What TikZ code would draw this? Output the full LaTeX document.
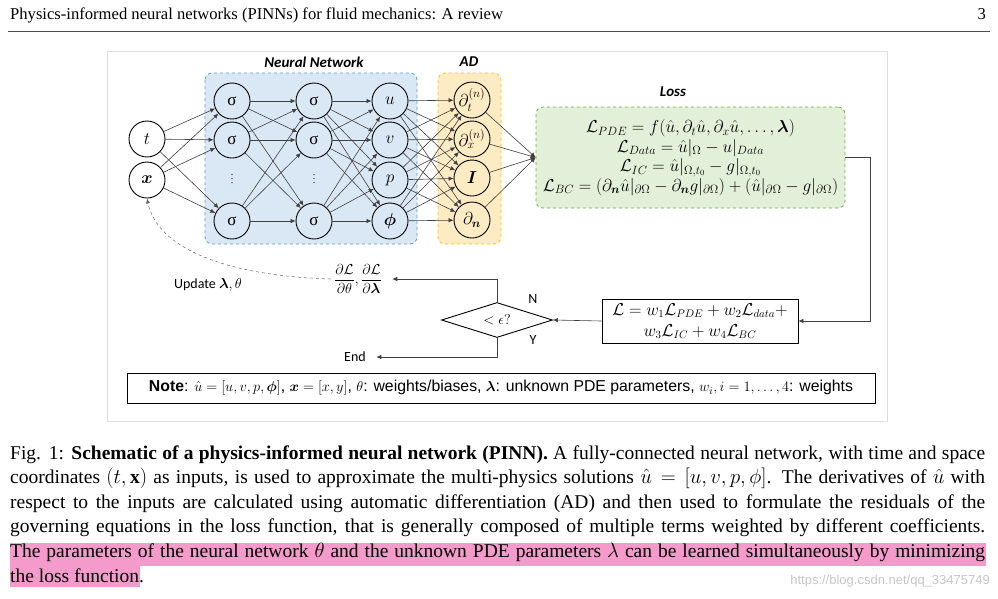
\documentclass[tikz,border=0pt]{standalone}
\usepackage{amsmath,bm}
\usepackage{fontspec}
\setmainfont{Liberation Serif}
\newfontfamily\calibri{Carlito}
\newfontfamily\arial{Liberation Sans}
\usetikzlibrary{arrows.meta,shapes.geometric}
\definecolor{nnfill}{HTML}{DAE8F5}
\definecolor{nnline}{HTML}{5B9BD5}
\definecolor{adfill}{HTML}{FDEBC4}
\definecolor{adline}{HTML}{FFC000}
\definecolor{lossfill}{HTML}{E2F0D9}
\definecolor{lossline}{HTML}{70AD47}
\definecolor{hilite}{HTML}{F59BCB}

\begin{document}
\begin{tikzpicture}[x=1pt,y=-1pt,
 neu/.style={draw,circle,minimum size=36pt,inner sep=0pt,line width=0.9pt,font=\fontsize{17}{19}\selectfont},
 grp/.style={rounded corners=7pt,dashed,line width=0.8pt},
 ttl/.style={font=\calibri\bfseries\itshape\fontsize{15}{18}\selectfont},
 con/.style={-{Latex[length=5pt,width=4.5pt]},black!75,line width=0.6pt},
 lbl/.style={font=\calibri\fontsize{14}{16}\selectfont},
 capline/.style={anchor=base west,inner sep=0pt,font=\fontsize{19.5}{24}\selectfont}]
\useasboundingbox (0,0) rectangle (998,598);
\node[anchor=base west,inner sep=0pt,font=\fontsize{16.6}{18}\selectfont] (head) at (10,19) {Physics-informed neural networks (PINNs) for fluid mechanics: A review};
\node[anchor=base east,inner sep=0pt,font=\fontsize{16.6}{18}\selectfont] (pg) at (986,19) {3};
\draw[black!70,line width=0.6pt] (8,31) -- (990,31);
\draw[gray!25,line width=0.8pt] (107,51) rectangle (887,421);
\draw[grp,draw=nnline,fill=nnfill] (205,73) rectangle (417,244);
\draw[grp,draw=adline,fill=adfill] (438,73) rectangle (501,244);
\node[ttl] (nntitle) at (314,62) {Neural Network};
\node[ttl] (adtitle) at (469,62) {AD};
\node[ttl] (losstitle) at (673,92) {Loss};
\node[neu] (t) at (147,139) {$t$};
\node[neu] (x) at (147,180) {$\bm{x}$};
\foreach \c/\xx in {1/232,2/314}{
 \node[neu] (s\c1) at (\xx,101) {σ};
 \node[neu] (s\c2) at (\xx,140) {σ};
 \node (s\c3) at (\xx,176) {$\vdots$};
 \node[neu] (s\c4) at (\xx,221) {σ};
}
\node[neu] (o1) at (390,101) {$u$};
\node[neu] (o2) at (390,140) {$v$};
\node[neu] (o3) at (390,180) {$p$};
\node[neu] (o4) at (390,221) {$\bm{\phi}$};
\node[neu] (d1) at (472,100) {$\partial_t^{(n)}$};
\node[neu] (d2) at (472,139) {$\partial_x^{(n)}$};
\node[neu] (d3) at (472,178) {$\bm{I}$};
\node[neu] (d4) at (472,220) {$\partial_{\bm{n}}$};
\node[grp,draw=lossline,fill=lossfill,minimum width=309pt,minimum height=101pt,align=center,font=\fontsize{16.5}{19.5}\selectfont] (loss) at (690.5,157.5)
 {$\mathcal{L}_{PDE}=f(\hat{u},\partial_t\hat{u},\partial_x\hat{u},\dots,\bm{\lambda})$\\
  $\mathcal{L}_{Data}=\hat{u}|_{\Omega}-u|_{Data}$\\
  $\mathcal{L}_{IC}=\hat{u}|_{\Omega,t_0}-g|_{\Omega,t_0}$\\
  $\mathcal{L}_{BC}=(\partial_{\bm{n}}\hat{u}|_{\partial\Omega}-\partial_{\bm{n}}g|_{\partial\Omega})+(\hat{u}|_{\partial\Omega}-g|_{\partial\Omega})$};
\foreach \i in {t,x} \foreach \j in {1,2,4} \draw[con] (\i) -- (s1\j);
\foreach \i in {1,2,4} \foreach \j in {1,2,4} \draw[con] (s1\i) -- (s2\j);
\foreach \i in {1,2,4} \foreach \j in {1,...,4} \draw[con] (s2\i) -- (o\j);
\foreach \i in {1,...,4} \foreach \j in {1,...,4} \draw[con] (o\i) -- (d\j);
\foreach \i in {1,...,4} \draw[con] (d\i) -- (loss.west);
\node[draw,line width=0.9pt,minimum width=196pt,minimum height=44pt,align=center,font=\fontsize{16}{21}\selectfont] (tot) at (700,321)
 {$\mathcal{L}=w_1\mathcal{L}_{PDE}+w_2\mathcal{L}_{data}+$\\$w_3\mathcal{L}_{IC}+w_4\mathcal{L}_{BC}$};
\node[draw,diamond,aspect=3.2,minimum width=111pt,minimum height=35pt,inner sep=0pt,line width=0.9pt,font=\fontsize{15}{16}\selectfont] (chk) at (497,320) {$<\epsilon?$};
\node[font=\fontsize{14}{16}\selectfont] (grad) at (358,279) {$\dfrac{\partial\mathcal{L}}{\partial\theta},\dfrac{\partial\mathcal{L}}{\partial\bm{\lambda}}$};
\node[lbl] (upd) at (208,285) {Update $\bm{\lambda},\theta$};
\node[lbl] (endn) at (355,357) {End};
\node[lbl] (nlab) at (533,299) {N};
\node[lbl] (ylab) at (533,340) {Y};
\coordinate (rt) at (870,321);
\draw[con] (loss.east) -| (rt) -- (tot.east);
\draw[con] (tot.west) -- (chk.east);
\draw[con,shorten >=7pt] (chk.north) |- (grad);
\draw[con,shorten >=7pt] (chk.south) |- (endn);
\draw[dashed,black!60,line width=0.5pt,-{Latex[length=5pt,width=4pt]}] (grad.west) .. controls (230,276) and (158,250) .. (x.south);
\node[draw,line width=0.9pt,minimum width=748pt,minimum height=30pt,font=\arial\fontsize{15.8}{17}\selectfont] (note) at (501,388)
 {\textbf{Note}: $\hat{u}=[u,v,p,\bm{\phi}]$, $\bm{x}=[x,y]$, $\theta$: weights/biases, $\bm{\lambda}$: unknown PDE parameters, $w_i,i=1,\dots,4$: weights};
\fill[hilite] (10,543) rectangle (986,566);
\fill[hilite] (10,566) rectangle (140,587);
\node[capline] (cap1) at (10,459) {\hbox to 975pt{Fig. 1: \textbf{Schematic of a physics-informed neural network (PINN).} A fully-connected neural network, with time and space}};
\node[capline] (cap2) at (10,483.6) {\hbox to 975pt{coordinates $(t,\mathbf{x})$ as inputs, is used to approximate the multi-physics solutions $\hat{u}=[u,v,p,\phi]$. The derivatives of $\hat{u}$ with}};
\node[capline] (cap3) at (10,508.2) {\hbox to 975pt{respect to the inputs are calculated using automatic differentiation (AD) and then used to formulate the residuals of the}};
\node[capline] (cap4) at (10,532.8) {\hbox to 975pt{governing equations in the loss function, that is generally composed of multiple terms weighted by different coefficients.}};
\node[capline] (cap5) at (10,557.4) {\hbox to 975pt{The parameters of the neural network $\theta$ and the unknown PDE parameters $\lambda$ can be learned simultaneously by minimizing}};
\node[capline] (cap6) at (10,582) {the loss function.};
\node[anchor=base east,inner sep=0pt,text=gray!45,font=\arial\fontsize{13}{15}\selectfont] (wm) at (990,584) {https://blog.csdn.net/qq\_33475749};
\end{tikzpicture}
\end{document}
